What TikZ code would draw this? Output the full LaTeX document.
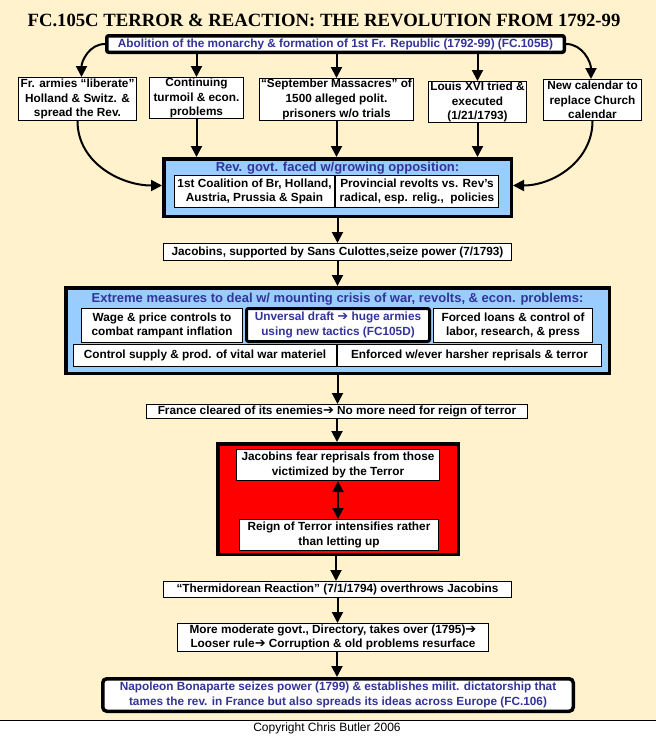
\documentclass[tikz,border=0pt]{standalone}
\usepackage{fontspec}
\setmainfont{Liberation Sans}
\newfontfamily\titlefont{Liberation Serif}
\newfontfamily\symfont{DejaVu Sans}
\usepackage{xcolor}
\usetikzlibrary{arrows.meta}
\definecolor{cream}{HTML}{FFF2CC}
\definecolor{paleblue}{HTML}{99CCFF}
\definecolor{navy}{HTML}{333399}
\newcommand{\then}{{\symfont\fontsize{13}{10}\selectfont ➔}}

\begin{document}
\begin{tikzpicture}[x=1pt,y=-1pt,
		box/.style={draw,fill=white,line width=1.4pt,inner sep=0pt,align=center,font=\bfseries\fontsize{11.8}{14.6}\selectfont},
		heavybox/.style={box,line width=3.5pt,rounded corners=2pt},
		frame/.style={draw,line width=3.5pt,inner sep=0pt},
		headline/.style={text=navy,font=\bfseries\fontsize{13}{15}\selectfont},
		arr/.style={line width=2pt,-{Triangle[width=11pt,length=11pt]}},
		arrboth/.style={line width=2pt,{Triangle[width=11pt,length=11pt]}-{Triangle[width=11pt,length=11pt]}}]
			\useasboundingbox (0,0) rectangle (656,737);
			\fill[white] (0,0) rectangle (656,737);
			\fill[cream] (0,0) rectangle (656,720);
			\draw[line width=1pt] (0,720) -- (656,720);
			
			\node[font=\titlefont\bfseries\fontsize{18.7}{20}\selectfont] (title) at (324,20) {FC.105C TERROR \& REACTION: THE REVOLUTION FROM 1792-99};
			\node[heavybox,text=navy,minimum width=457.5,minimum height=16.5] (abol) at (335.5,44) {Abolition of the monarchy \& formation of 1st Fr. Republic (1792-99) (FC.105B)};
			
			\node[box,minimum width=117.6,minimum height=42.6] (armies) at (77.5,99) {Fr. armies “liberate”\\Holland \& Switz. \&\\spread the Rev.};
			\node[box,minimum width=93.6,minimum height=40.6] (turmoil) at (196.5,98) {Continuing\\turmoil \& econ.\\problems};
			\node[box,minimum width=153.6,minimum height=41.6] (massacre) at (336.5,99.5) {“September Massacres” of\\1500 alleged polit.\\prisoners w/o trials};
			\node[box,minimum width=97.6,minimum height=40.6] (louis) at (477.5,102) {Louis XVI tried \&\\executed\\(1/21/1793)};
			\node[box,minimum width=97.6,minimum height=40.6] (calendar) at (592.5,100) {New calendar to\\replace Church\\calendar};
			
			\node[frame,fill=paleblue,minimum width=347.5,minimum height=57.5] (opp) at (337.5,187.5) {};
			\node[headline] (opptitle) at (337.5,168) {Rev. govt. faced w/growing opposition:};
			\node[box,minimum width=159.6,minimum height=31.6] (coalition) at (254.5,191.5) {1st Coalition of Br, Holland,\\Austria, Prussia \& Spain};
			\node[box,minimum width=162.6,minimum height=31.6] (revolts) at (417,191.5) {Provincial revolts vs. Rev’s\\radical, esp. relig.,\ \ policies};
			
			\node[box,minimum width=347.6,minimum height=16.6] (jacobins) at (337.5,252) {Jacobins, supported by Sans Culottes,seize power (7/1793)};
			
			\node[frame,fill=paleblue,minimum width=543.5,minimum height=85.5] (extreme) at (337.5,330.5) {};
			\node[headline] (exttitle) at (337.5,299.5) {Extreme measures to deal w/ mounting crisis of war, revolts, \& econ. problems:};
			\node[box,minimum width=160.6,minimum height=33.6] (wage) at (162,325.5) {Wage \& price controls to\\combat rampant inflation};
			\node[heavybox,line width=3pt,text=navy,minimum width=183,minimum height=33] (draft) at (338,325) {Unversal draft \then{} huge armies\\using new tactics (FC105D)};
			\node[box,minimum width=158.6,minimum height=33.6] (loans) at (513,325.5) {Forced loans \& control of\\labor, research, \& press};
			\node[box,minimum width=262.6,minimum height=21.6] (supply) at (205,355.5) {Control supply \& prod. of vital war materiel};
			\node[box,minimum width=263.6,minimum height=21.6] (reprisal) at (469.5,355.5) {Enforced w/ever harsher reprisals \& terror};
			
			\node[box,minimum width=380.6,minimum height=13.6] (cleared) at (337,411.5) {France cleared of its enemies\then{} No more need for reign of terror};
			
			\node[frame,fill=red,minimum width=240.5,minimum height=110.5] (terror) at (338,499) {};
			\node[box,minimum width=202.6,minimum height=30.6] (fear) at (338,465) {Jacobins fear reprisals from those\\victimized by the Terror};
			\node[box,minimum width=198.6,minimum height=30.6] (reign) at (339,535) {Reign of Terror intensifies rather\\than letting up};
			
			\node[box,minimum width=347.6,minimum height=15.6] (thermidor) at (337.5,589.5) {“Thermidorean Reaction” (7/1/1794) overthrows Jacobins};
			\node[box,minimum width=310.6,minimum height=27.6] (directory) at (333,637.5) {More moderate govt., Directory, takes over (1795)\then\\Looser rule\then{} Corruption \& old problems resurface};
			\node[heavybox,rounded corners=4pt,text=navy,minimum width=470.5,minimum height=32.5] (napoleon) at (338,695) {Napoleon Bonaparte seizes power (1799) \& establishes milit. dictatorship that\\tames the rev. in France but also spreads its ideas across Europe (FC.106)};
			
			\node[font=\fontsize{12}{14}\selectfont] (copy) at (327,728.5) {Copyright Chris Butler 2006};
			
			\draw[arr] (abol.west) to[out=180,in=90] ([xshift=4pt]armies.north);
			\draw[arr] (abol.south -| turmoil.north) -- (turmoil.north);
			\draw[arr] (abol.south -| massacre.north) -- (massacre.north);
			\draw[arr] (abol.south -| louis.north) -- (louis.north);
			\draw[arr] (abol.east) to[out=0,in=90] ([xshift=-1.5pt]calendar.north);
			
			\draw[arr] (armies.south) to[out=270,in=180] ([yshift=2pt]opp.west);
			\draw[arr] (turmoil.south) -- (turmoil.south |- opp.north);
			\draw[arr] (massacre.south) -- (massacre.south |- opp.north);
			\draw[arr] (louis.south) -- (louis.south |- opp.north);
			\draw[arr] (calendar.south) to[out=270,in=0] ([yshift=2pt]opp.east);
			
			\draw[arr] (opp.south) -- (opp.south |- jacobins.north);
			\draw[arr] (jacobins.south) -- (jacobins.south |- extreme.north);
			\draw[arr] (extreme.south) -- (extreme.south |- cleared.north);
			\draw[arr] (cleared.south) -- (cleared.south |- terror.north);
			\draw[arrboth] (fear.south) -- (fear.south |- reign.north);
			\draw[arr] ([xshift=-2pt]terror.south) -- ([xshift=-2pt]terror.south |- thermidor.north);
			\draw[arr] (thermidor.south) -- (thermidor.south |- directory.north);
			\draw[arr] ([xshift=4pt]directory.south) -- ([xshift=4pt]directory.south |- napoleon.north);
		\end{tikzpicture}
\end{document}
